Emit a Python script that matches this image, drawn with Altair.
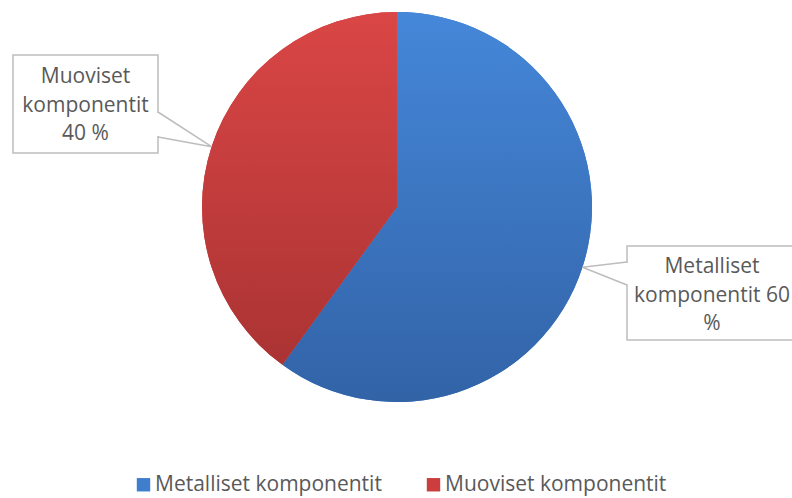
import math
import altair as alt
import pandas as pd

# ---- data ----
categories = ["Metalliset komponentit", "Muoviset komponentit"]
values = [60, 40]
label_lines = [["Metalliset", "komponentit 60", "%"], ["Muoviset", "komponentit", "40 %"]]

# ---- layout / style ----
W, H = 792, 498
CX, CY, R = 397, 207, 195
colors = ["#3f7ecd", "#cc3e3e"]
grad_top = ["#4587d9", "#da4646"]
grad_bot = ["#3263a7", "#ab3333"]
TEXT = "#595959"
FONT = "Open Sans"
BOX_STROKE = "#bdbdbd"
# callout boxes: x0, x1, y0, y1, pointer base side x, pointer base y pair, text center x, first baseline
boxes = [
    dict(x0=627, x1=805, y0=246, y1=340, bx=627, by=(262, 285), tx=712, ty=273),
    dict(x0=13, x1=158, y0=55, y1=153, bx=158, by=(112, 137), tx=85.5, ty=83),
]
LINE_H = 28.5

xs = alt.Scale(domain=[0, W], nice=False, zero=False)
ys = alt.Scale(domain=[0, H], nice=False, zero=False, reverse=True)

pie_df = pd.DataFrame({"category": categories, "value": values, "ord": list(range(len(values)))})

def grad(i):
    return {
        "gradient": "linear", "x1": 0, "y1": 0, "x2": 0, "y2": 1,
        "stops": [{"offset": 0, "color": grad_top[i]}, {"offset": 1, "color": grad_bot[i]}],
    }

pie_base = alt.Chart(pie_df).mark_arc(radius=R, strokeWidth=0).encode(
    theta=alt.Theta("value:Q", stack=True),
    color=alt.Color(
        "category:N",
        scale=alt.Scale(domain=categories, range=colors),
        sort=categories,
        legend=alt.Legend(
            title=None, orient="none", legendX=133, legendY=474, direction="horizontal",
            symbolType="square", symbolSize=180, symbolStrokeWidth=0,
            labelFont=FONT, labelFontSize=21, labelColor=TEXT, labelOffset=1,
            columnPadding=41, padding=0, labelLimit=400,
        ),
    ),
    order=alt.Order("ord:Q"),
    x=alt.value(CX), y=alt.value(CY),
)

pie_grad = alt.Chart(pie_df).mark_arc(radius=R, strokeWidth=0).encode(
    theta=alt.Theta("value:Q", stack=True),
    detail="category:N",
    fill=alt.condition(alt.datum.category == categories[0], alt.value(grad(0)), alt.value(grad(1))),
    order=alt.Order("ord:Q"),
    x=alt.value(CX), y=alt.value(CY),
)

# callout geometry computed from slice mid-angles
total = sum(values)
cum = 0
rect_rows, cover_rows, line_rows, text_rows = [], [], [], []
for i, v in enumerate(values):
    mid = (cum + v / 2) / total
    cum += v
    ang = 2 * math.pi * mid
    tipx = CX + R * math.sin(ang)
    tipy = CY - R * math.cos(ang)
    b = boxes[i]
    rect_rows.append(dict(g=i, x0=b["x0"], x1=b["x1"], y0=b["y0"], y1=b["y1"]))
    cover_rows.append(dict(g=i, x=b["bx"], y0=b["by"][0] + 1, y1=b["by"][1] - 1))
    for k, (px, py) in enumerate([(b["bx"], b["by"][0]), (tipx, tipy), (b["bx"], b["by"][1])]):
        line_rows.append(dict(g=i, k=k, x=px, y=py))
    for j, t in enumerate(label_lines[i]):
        text_rows.append(dict(x=b["tx"], y=b["ty"] + j * LINE_H, t=t))

rects = alt.Chart(pd.DataFrame(rect_rows)).mark_rect(
    fill="white", stroke=BOX_STROKE, strokeWidth=1.5
).encode(
    x=alt.X("x0:Q", scale=xs, axis=None), x2="x1:Q",
    y=alt.Y("y0:Q", scale=ys, axis=None), y2="y1:Q",
)

covers = alt.Chart(pd.DataFrame(cover_rows)).mark_rule(color="white", strokeWidth=3).encode(
    x=alt.X("x:Q", scale=xs, axis=None),
    y=alt.Y("y0:Q", scale=ys, axis=None), y2="y1:Q",
)

pointers = alt.Chart(pd.DataFrame(line_rows)).mark_line(
    color=BOX_STROKE, strokeWidth=1.5, fill=None
).encode(
    x=alt.X("x:Q", scale=xs, axis=None),
    y=alt.Y("y:Q", scale=ys, axis=None),
    detail="g:N", order="k:Q",
)

texts = alt.Chart(pd.DataFrame(text_rows)).mark_text(
    font=FONT, fontSize=21, color=TEXT, align="center", baseline="alphabetic"
).encode(
    x=alt.X("x:Q", scale=xs, axis=None),
    y=alt.Y("y:Q", scale=ys, axis=None),
    text="t:N",
)

chart = alt.layer(pie_base, pie_grad, rects, covers, pointers, texts).properties(
    width=W, height=H, autosize=alt.AutoSizeParams(type="none"), padding=0,
    background="white",
).configure_view(stroke=None)

chart.save("out.html", embed_options={"renderer": "svg", "actions": False})
